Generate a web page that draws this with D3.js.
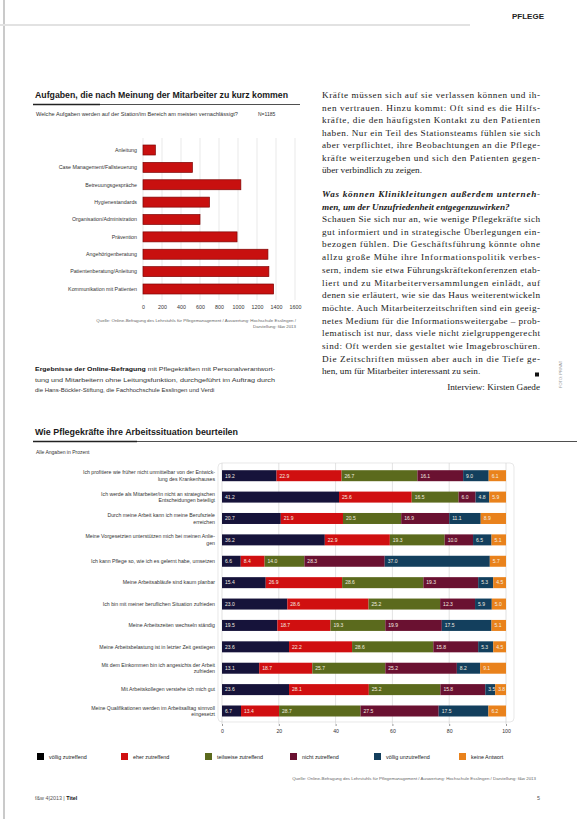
<!DOCTYPE html>
<html>
<head>
<meta charset="utf-8">
<script src="https://cdn.jsdelivr.net/npm/d3@7/dist/d3.min.js"></script>
<style>
  body { margin: 0; background: #fff; }
  svg { display: block; }
  .sans { font-family: "Liberation Sans", Arial, sans-serif; }
  .serif { font-family: "Liberation Serif", "Times New Roman", serif; }
</style>
</head>
<body>
<div id="page"></div>
<script>
// ---- chart 1: Aufgaben, die zu kurz kommen
var taskCategories = [
    "Anleitung",
    "Case Management/Fallsteuerung",
    "Betreuungsgespräche",
    "Hygienestandards",
    "Organisation/Administration",
    "Prävention",
    "Angehörigenberatung",
    "Patientenberatung/Anleitung",
    "Kommunikation mit Patienten"
];
var taskCounts = [130, 520, 1030, 700, 600, 990, 1315, 1325, 1375];
var taskTicks = [0, 200, 400, 600, 800, 1000, 1200, 1400, 1600];

// ---- chart 2: Wie Pflegekräfte ihre Arbeitssituation beurteilen
var ratingItems = [
    ["Ich profitiere wie früher nicht unmittelbar von der Entwick-", "lung des Krankenhauses"],
    ["Ich werde als Mitarbeiter/in nicht an strategischen", "Entscheidungen beteiligt"],
    ["Durch meine Arbeit kann ich meine Berufsziele", "erreichen"],
    ["Meine Vorgesetzten unterstützen mich bei meinen Anlie-", "gen"],
    ["Ich kann Pflege so, wie ich es gelernt habe, umsetzen"],
    ["Meine Arbeitsabläufe sind kaum planbar"],
    ["Ich bin mit meiner beruflichen Situation zufrieden"],
    ["Meine Arbeitszeiten wechseln ständig"],
    ["Meine Arbeitsbelastung ist in letzter Zeit gestiegen"],
    ["Mit dem Einkommen bin ich angesichts der Arbeit", "zufrieden"],
    ["Mit Arbeitskollegen verstehe ich mich gut"],
    ["Meine Qualifikationen werden im Arbeitsalltag sinnvoll", "eingesetzt"]
];
var ratingKeys = ["völlig zutreffend", "eher zutreffend", "teilweise zutreffend",
    "nicht zutreffend", "völlig unzutreffend", "keine Antwort"];
var ratingColors = ["#16133a", "#d00f10", "#5b6a1d", "#6a1131", "#133f5d", "#e9821c"];
var voelligZu   = [19.2, 41.2, 20.7, 36.2,  6.6, 15.4, 23.0, 19.5, 23.6, 13.1, 23.6,  6.7];
var eherZu      = [22.9, 25.6, 21.9, 22.9,  8.4, 26.9, 28.6, 18.7, 22.2, 18.7, 28.1, 13.4];
var teilweiseZu = [26.7, 16.5, 20.5, 19.3, 14.0, 28.6, 25.2, 19.3, 28.6, 25.7, 25.2, 28.7];
var nichtZu     = [16.1,  6.0, 16.9, 10.0, 28.3, 19.3, 12.3, 19.9, 15.8, 25.2, 15.8, 27.5];
var voelligUn   = [ 9.0,  4.8, 11.1,  6.5, 37.0,  5.3,  5.9, 17.5,  5.3,  8.2,  3.5, 17.5];
var keineAntw   = [ 6.1,  5.9,  8.9,  5.1,  5.7,  4.5,  5.0,  5.1,  4.5,  9.1,  3.8,  6.2];
var ratingTicks = [0, 20, 40, 60, 80, 100];

// ---- text column
var para1 = [
    "Kräfte müssen sich auf sie verlassen können und ih-",
    "nen vertrauen. Hinzu kommt: Oft sind es die Hilfs-",
    "kräfte, die den häufigsten Kontakt zu den Patienten",
    "haben. Nur ein Teil des Stationsteams fühlen sie sich",
    "aber verpflichtet, ihre Beobachtungen an die Pflege-",
    "kräfte weiterzugeben und sich den Patienten gegen-",
    "über verbindlich zu zeigen."
];
var question = [
    "Was können Klinikleitungen außerdem unterneh-",
    "men, um der Unzufriedenheit entgegenzuwirken?"
];
var answer = [
    "Schauen Sie sich nur an, wie wenige Pflegekräfte sich",
    "gut informiert und in strategische Überlegungen ein-",
    "bezogen fühlen. Die Geschäftsführung könnte ohne",
    "allzu große Mühe ihre Informationspolitik verbes-",
    "sern, indem sie etwa Führungskräftekonferenzen etab-",
    "liert und zu Mitarbeiterversammlungen einlädt, auf",
    "denen sie erläutert, wie sie das Haus weiterentwickeln",
    "möchte. Auch Mitarbeiterzeitschriften sind ein geeig-",
    "netes Medium für die Informationsweitergabe – prob-",
    "lematisch ist nur, dass viele nicht zielgruppengerecht",
    "sind: Oft werden sie gestaltet wie Imagebroschüren.",
    "Die Zeitschriften müssen aber auch in die Tiefe ge-",
    "hen, um für Mitarbeiter interessant zu sein."
];

var W = 577, H = 819;

var svg = d3.select("#page").append("svg")
    .attr("width", W)
    .attr("height", H);

// page furniture
svg.append("line").attr("x1", 4).attr("x2", 4).attr("y1", 0).attr("y2", H)
    .attr("stroke", "#b8b8b8").attr("stroke-width", 1.5);
svg.append("line").attr("x1", 0).attr("x2", 470).attr("y1", 25).attr("y2", 25)
    .attr("stroke", "#e2e2e2").attr("stroke-width", 2);
svg.append("text").attr("class", "sans")
    .attr("x", 544).attr("y", 19).attr("text-anchor", "end")
    .attr("font-size", 8).attr("font-weight", "bold").attr("fill", "#222")
    .text("PFLEGE");

// ================= chart 1 =================
svg.append("text").attr("class", "sans")
    .attr("x", 35).attr("y", 98)
    .attr("font-size", 8.6).attr("font-weight", "bold").attr("fill", "#1a1a1a")
    .attr("textLength", 253).attr("lengthAdjust", "spacingAndGlyphs")
    .text("Aufgaben, die nach Meinung der Mitarbeiter zu kurz kommen");
svg.append("line").attr("x1", 33).attr("x2", 300).attr("y1", 104.5).attr("y2", 104.5)
    .attr("stroke", "#222").attr("stroke-width", 0.8);
svg.append("line").attr("x1", 33).attr("x2", 100).attr("y1", 104.5).attr("y2", 104.5)
    .attr("stroke", "#222").attr("stroke-width", 1.6);
svg.append("text").attr("class", "sans")
    .attr("x", 36).attr("y", 116).attr("font-size", 5).attr("fill", "#333")
    .attr("textLength", 202).attr("lengthAdjust", "spacingAndGlyphs")
    .text("Welche Aufgaben werden auf der Station/im Bereich am meisten vernachlässigt?");
svg.append("text").attr("class", "sans")
    .attr("x", 258).attr("y", 116).attr("font-size", 5).attr("fill", "#333")
    .text("N=1185");

var x1 = d3.scaleLinear().domain([0, 1600]).range([143, 295]);
var y1 = d3.scalePoint().domain(d3.range(taskCategories.length)).range([150, 289]);

var c1 = svg.append("g");
c1.selectAll(".grid1").data(taskTicks).enter().append("line")
    .attr("x1", function (d) { return x1(d); })
    .attr("x2", function (d) { return x1(d); })
    .attr("y1", 138).attr("y2", 300)
    .attr("stroke", "#e0e0e0").attr("stroke-width", 0.7);

c1.selectAll(".bar1").data(taskCounts).enter().append("rect")
    .attr("x", x1(0))
    .attr("y", function (d, i) { return y1(i) - 5; })
    .attr("width", function (d) { return x1(d) - x1(0); })
    .attr("height", 10)
    .attr("fill", "#c8100f")
    .attr("stroke", "#7e0505").attr("stroke-width", 0.7);

c1.selectAll(".cat1").data(taskCategories).enter().append("text")
    .attr("class", "sans")
    .attr("x", 137)
    .attr("y", function (d, i) { return y1(i) + 1.8; })
    .attr("text-anchor", "end").attr("font-size", 5.3).attr("fill", "#333")
    .text(function (d) { return d; });

c1.append("g")
    .attr("transform", "translate(0,301)")
    .call(d3.axisBottom(x1).tickValues(taskTicks).tickFormat(d3.format("d")).tickSize(0).tickPadding(4))
    .call(function (g) { g.select(".domain").remove(); })
    .selectAll("text")
    .attr("class", "sans").attr("font-size", 5.3).attr("fill", "#333");

svg.append("text").attr("class", "sans")
    .attr("x", 296).attr("y", 322).attr("text-anchor", "end")
    .attr("font-size", 4.4).attr("fill", "#666")
    .text("Quelle: Online-Befragung des Lehrstuhls für Pflegemanagement / Auswertung: Hochschule Esslingen /");
svg.append("text").attr("class", "sans")
    .attr("x", 296).attr("y", 328).attr("text-anchor", "end")
    .attr("font-size", 4.4).attr("fill", "#666")
    .text("Darstellung: f&w 2013");

// caption under chart 1
var capLines = [
    ["Ergebnisse der Online-Befragung", " mit Pflegekräften mit Personalverantwort-"],
    ["", "tung und Mitarbeitern ohne Leitungsfunktion, durchgeführt im Auftrag durch"],
    ["", "die Hans-Böckler-Stiftung, die Fachhochschule Esslingen und Verdi"]
];
capLines.forEach(function (l, i) {
    var t = svg.append("text").attr("class", "sans")
        .attr("x", 35).attr("y", 371 + i * 10.5)
        .attr("font-size", 6).attr("fill", "#333");
    if (i < 2) t.attr("textLength", 240).attr("lengthAdjust", "spacingAndGlyphs");
    t.append("tspan").attr("font-weight", "bold").attr("fill", "#111").text(l[0]);
    t.append("tspan").text(l[1]);
});

// ================= text column =================
var colX = 322, colW = 218;
function textLines(lines, y0, step, opts) {
    lines.forEach(function (s, i) {
        var t = svg.append("text").attr("class", "serif")
            .attr("x", colX).attr("y", y0 + i * step)
            .attr("font-size", 9.2).attr("fill", "#1a1a1a")
            .text(s);
        if (opts.italic) t.attr("font-style", "italic").attr("font-weight", "bold");
        if (i < lines.length - 1) t.attr("textLength", colW).attr("lengthAdjust", "spacing");
    });
}
textLines(para1, 98, 12.5, {});
textLines(question, 197, 12.5, {italic: true});
textLines(answer, 222, 12.7, {});
svg.append("rect").attr("x", 535).attr("y", 372.5).attr("width", 4).attr("height", 4).attr("fill", "#111");
svg.append("text").attr("class", "serif")
    .attr("x", 540).attr("y", 390).attr("text-anchor", "end")
    .attr("font-size", 9.2).attr("fill", "#1a1a1a")
    .text("Interview: Kirsten Gaede");
svg.append("text").attr("class", "sans")
    .attr("transform", "translate(562,388) rotate(-90)")
    .attr("font-size", 4).attr("fill", "#999")
    .text("FOTO: PRIVAT");

// ================= chart 2 =================
svg.append("text").attr("class", "sans")
    .attr("x", 35).attr("y", 435)
    .attr("font-size", 8.6).attr("font-weight", "bold").attr("fill", "#1a1a1a")
    .attr("textLength", 203).attr("lengthAdjust", "spacingAndGlyphs")
    .text("Wie Pflegekräfte ihre Arbeitssituation beurteilen");
svg.append("line").attr("x1", 33).attr("x2", 577).attr("y1", 441.5).attr("y2", 441.5)
    .attr("stroke", "#222").attr("stroke-width", 0.8);
svg.append("line").attr("x1", 33).attr("x2", 137).attr("y1", 441.5).attr("y2", 441.5)
    .attr("stroke", "#222").attr("stroke-width", 1.6);
svg.append("text").attr("class", "sans")
    .attr("x", 36).attr("y", 454).attr("font-size", 5).attr("fill", "#333")
    .text("Alle Angaben in Prozent");

var table = ratingItems.map(function (d, i) {
    var row = {i: i};
    var series = [voelligZu, eherZu, teilweiseZu, nichtZu, voelligUn, keineAntw];
    ratingKeys.forEach(function (k, j) { row[k] = series[j][i]; });
    return row;
});
var stacked = d3.stack().keys(ratingKeys)(table);

var x2 = d3.scaleLinear().domain([0, 100]).range([222, 506]);
var y2 = d3.scalePoint().domain(d3.range(ratingItems.length)).range([475.7, 711]);
var barH = 11;

var c2 = svg.append("g");
c2.append("rect").attr("x", 218).attr("y", 463).attr("width", 296).attr("height", 259)
    .attr("rx", 4).attr("fill", "none").attr("stroke", "#d8d8d8").attr("stroke-width", 0.6);

c2.selectAll(".grid2").data(ratingTicks).enter().append("line")
    .attr("x1", function (d) { return x2(d); })
    .attr("x2", function (d) { return x2(d); })
    .attr("y1", 463).attr("y2", 724)
    .attr("stroke", "#cfcfcf").attr("stroke-width", 0.6);

var layer = c2.selectAll(".layer").data(stacked).enter().append("g")
    .attr("fill", function (d, j) { return ratingColors[j]; });

layer.selectAll("rect").data(function (d) { return d; }).enter().append("rect")
    .attr("x", function (d) { return x2(d[0]); })
    .attr("y", function (d) { return y2(d.data.i) - barH / 2; })
    .attr("width", function (d) { return x2(d[1]) - x2(d[0]); })
    .attr("height", barH);

layer.selectAll("text").data(function (d) { return d; }).enter().append("text")
    .filter(function (d) { return d[1] - d[0] >= 3.4; })
    .attr("class", "sans")
    .attr("x", function (d) { return x2(d[0]) + 3; })
    .attr("y", function (d) { return y2(d.data.i) + 1.8; })
    .attr("font-size", 5).attr("fill", "#f3eee0")
    .text(function (d) { return d3.format(".1f")(d[1] - d[0]); });

c2.selectAll(".cat2").data(ratingItems).enter().append("text")
    .attr("class", "sans")
    .attr("text-anchor", "end").attr("font-size", 5.2).attr("fill", "#333")
    .each(function (lines, i) {
        var t = d3.select(this);
        var top = y2(i) + 1.8 - (lines.length - 1) * 3.3;
        lines.forEach(function (s, k) {
            t.append("tspan").attr("x", 215).attr("y", top + k * 6.6).text(s);
        });
    });

c2.append("g")
    .attr("transform", "translate(0,724)")
    .call(d3.axisBottom(x2).tickValues(ratingTicks).tickSize(2).tickPadding(3))
    .call(function (g) { g.select(".domain").remove(); })
    .call(function (g) { g.selectAll("line").attr("stroke", "#999"); })
    .selectAll("text")
    .attr("class", "sans").attr("font-size", 5.2).attr("fill", "#333");

// legend
var legendX = [37, 121, 205, 290, 374, 459];
var legend = svg.selectAll(".leg").data(ratingKeys).enter().append("g")
    .attr("transform", function (d, i) { return "translate(" + legendX[i] + ",753)"; });
legend.append("rect").attr("width", 7).attr("height", 7)
    .attr("fill", function (d, i) { return i === 0 ? "#000" : ratingColors[i]; });
legend.append("text").attr("class", "sans")
    .attr("x", 12).attr("y", 6).attr("font-size", 5.4).attr("fill", "#222")
    .text(function (d) { return d; });

svg.append("text").attr("class", "sans")
    .attr("x", 536).attr("y", 780).attr("text-anchor", "end")
    .attr("font-size", 4.4).attr("fill", "#666")
    .text("Quelle: Online-Befragung des Lehrstuhls für Pflegemanagement / Auswertung: Hochschule Esslingen / Darstellung: f&w 2013");

// footer
var foot = svg.append("text").attr("class", "sans")
    .attr("x", 35).attr("y", 800).attr("font-size", 5.4).attr("fill", "#555");
foot.append("tspan").text("f&w   4|2013  |  ");
foot.append("tspan").attr("font-weight", "bold").attr("fill", "#111").text("Titel");
svg.append("text").attr("class", "sans")
    .attr("x", 540).attr("y", 800).attr("text-anchor", "end")
    .attr("font-size", 5.4).attr("fill", "#555").text("5");
</script>
</body>
</html>
